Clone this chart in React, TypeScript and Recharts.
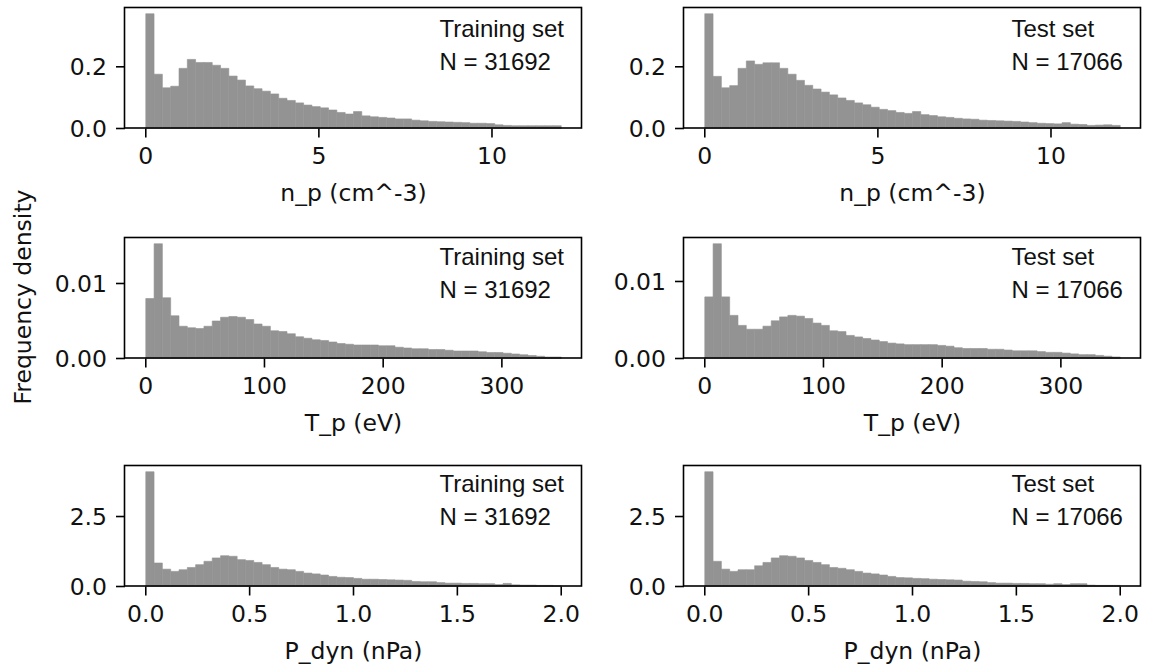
import { BarChart, Bar, XAxis, YAxis } from "recharts";

// histogram bin ranges (50 equal bins each)
const npRange = [0, 12];
const tpRange = [0, 350];
const pdynRange = [0, 2];

// frequency density per bin
const npTrain = [
  0.372, 0.176, 0.132, 0.137, 0.195, 0.224, 0.214, 0.214, 0.205, 0.195,
  0.170, 0.157, 0.138, 0.129, 0.121, 0.112, 0.098, 0.091, 0.083, 0.076,
  0.071, 0.067, 0.060, 0.052, 0.047, 0.055, 0.041, 0.038, 0.036, 0.034,
  0.031, 0.031, 0.027, 0.025, 0.023, 0.022, 0.021, 0.020, 0.019, 0.017,
  0.017, 0.016, 0.012, 0.010, 0.009, 0.009, 0.009, 0.009, 0.009, 0.009,
];
const npTest = [
  0.372, 0.169, 0.132, 0.139, 0.195, 0.219, 0.208, 0.213, 0.213, 0.195,
  0.176, 0.156, 0.140, 0.128, 0.118, 0.109, 0.099, 0.091, 0.083, 0.077,
  0.069, 0.062, 0.058, 0.052, 0.049, 0.055, 0.045, 0.042, 0.038, 0.036,
  0.033, 0.031, 0.030, 0.027, 0.026, 0.025, 0.024, 0.023, 0.021, 0.019,
  0.017, 0.016, 0.015, 0.019, 0.014, 0.013, 0.010, 0.011, 0.012, 0.010,
];
const tpTrain = [
  0.0080, 0.0153, 0.0081, 0.0057, 0.0043, 0.0041, 0.0040, 0.0043, 0.0050, 0.0055,
  0.0056, 0.0055, 0.0052, 0.0046, 0.0043, 0.0037, 0.0036, 0.0033, 0.0029, 0.0027,
  0.0025, 0.0024, 0.0022, 0.0020, 0.0019, 0.0018, 0.0018, 0.0018, 0.0017, 0.0017,
  0.0015, 0.0014, 0.0013, 0.0013, 0.0012, 0.0012, 0.0011, 0.0010, 0.0010, 0.0010,
  0.0009, 0.0008, 0.0008, 0.0007, 0.0006, 0.0005, 0.0004, 0.0003, 0.0002, 0.0002,
];
const tpTest = [
  0.0080, 0.0149, 0.0080, 0.0056, 0.0043, 0.0038, 0.0038, 0.0042, 0.0049, 0.0054,
  0.0056, 0.0055, 0.0052, 0.0046, 0.0043, 0.0036, 0.0035, 0.0030, 0.0028, 0.0026,
  0.0024, 0.0022, 0.0020, 0.0019, 0.0018, 0.0018, 0.0018, 0.0018, 0.0017, 0.0016,
  0.0014, 0.0013, 0.0013, 0.0013, 0.0012, 0.0012, 0.0011, 0.0010, 0.0010, 0.0010,
  0.0009, 0.0008, 0.0008, 0.0007, 0.0006, 0.0005, 0.0005, 0.0004, 0.0003, 0.0002,
];
const pdynTrain = [
  4.10, 0.84, 0.62, 0.54, 0.60, 0.68, 0.78, 0.90, 1.02, 1.10,
  1.08, 0.96, 0.93, 0.86, 0.78, 0.68, 0.62, 0.60, 0.54, 0.48,
  0.45, 0.41, 0.36, 0.33, 0.32, 0.29, 0.26, 0.26, 0.25, 0.24,
  0.23, 0.22, 0.18, 0.17, 0.17, 0.14, 0.12, 0.12, 0.11, 0.11,
  0.10, 0.10, 0.07, 0.11, 0.06, 0.05, 0.05, 0.04, 0.04, 0.03,
];
const pdynTest = [
  4.10, 0.90, 0.62, 0.54, 0.60, 0.60, 0.74, 0.86, 1.02, 1.10,
  1.08, 1.02, 0.93, 0.86, 0.78, 0.68, 0.65, 0.60, 0.54, 0.48,
  0.45, 0.41, 0.36, 0.32, 0.31, 0.29, 0.28, 0.26, 0.25, 0.24,
  0.23, 0.19, 0.18, 0.17, 0.14, 0.12, 0.12, 0.11, 0.11, 0.10,
  0.10, 0.08, 0.10, 0.07, 0.10, 0.10, 0.05, 0.04, 0.04, 0.04,
];

const npXTicks = [0, 5, 10];
const tpXTicks = [0, 100, 200, 300];
const pdynXTicks = [0, 0.5, 1, 1.5, 2];
const npYTicks = [0, 0.2];
const tpYTicks = [0, 0.01];
const pdynYTicks = [0, 2.5];

const trainLabel = ["Training set", "N = 31692"];
const testLabel = ["Test set", "N = 17066"];

const PLOT_W = 457;
const PLOT_H = 120.5;
const ML = 120;
const MT = 10;
const MR = 10;
const MB = 85;
const COL_X = [124.5, 683.5];
const ROW_Y = [7.5, 237.5, 465.5];
const TEXT_X = [439.5, 1011.5];
const TEXT_Y = [36.5, 264.5, 491.5];
const BAR = "#939393";
const INK = "#111";
const TICK_FONT = { fill: INK, fontSize: 23.5, fontFamily: "DejaVu Sans" };

type PanelProps = {
  left: number;
  top: number;
  values: number[];
  range: number[];
  xTicks: number[];
  xFmt: (v: number) => string;
  yTicks: number[];
  yFmt: (v: number) => string;
  xLabel: string;
};

function Panel({ left, top, values, range, xTicks, xFmt, yTicks, yFmt, xLabel }: PanelProps) {
  const [lo, hi] = range;
  const step = (hi - lo) / values.length;
  const data = values.map((v, i) => ({ x: lo + step * (i + 0.5), density: v }));
  const pad = (hi - lo) * 0.05;
  const yMax = Math.max(...values) * 1.05;
  // a hair under the bin width, otherwise recharts shrinks bars to 90%
  const barSize = PLOT_W / (values.length * 1.1) - 0.02;

  return (
    <div style={{ position: "absolute", left: left - ML, top: top - MT }}>
      <BarChart
        width={ML + PLOT_W + MR}
        height={MT + PLOT_H + MB}
        data={data}
        margin={{ top: MT, right: MR, bottom: 0, left: 0 }}
        barCategoryGap={0}
        barGap={0}
      >
        <XAxis
          dataKey="x"
          type="number"
          domain={[lo - pad, hi + pad]}
          ticks={xTicks}
          interval={0}
          tickFormatter={xFmt}
          height={MB}
          axisLine={false}
          tickSize={9}
          tickMargin={10}
          tickLine={{ stroke: "#000", strokeWidth: 1.6 }}
          tick={TICK_FONT}
          label={{ value: xLabel, position: "insideBottom", offset: 13, ...TICK_FONT }}
        />
        <YAxis
          type="number"
          domain={[0, yMax]}
          ticks={yTicks}
          interval={0}
          tickFormatter={yFmt}
          width={ML}
          axisLine={false}
          tickSize={9}
          tickMargin={9}
          tickLine={{ stroke: "#000", strokeWidth: 1.6 }}
          tick={TICK_FONT}
        />
        <Bar
          dataKey="density"
          fill={BAR}
          stroke={BAR}
          strokeWidth={0.6}
          barSize={barSize}
          isAnimationActive={false}
        />
      </BarChart>
    </div>
  );
}

const rows = [
  { train: npTrain, test: npTest, range: npRange, xTicks: npXTicks, xFmt: (v: number) => String(v), yTicks: npYTicks, yFmt: (v: number) => v.toFixed(1), xLabel: "n_p (cm^-3)" },
  { train: tpTrain, test: tpTest, range: tpRange, xTicks: tpXTicks, xFmt: (v: number) => String(v), yTicks: tpYTicks, yFmt: (v: number) => v.toFixed(2), xLabel: "T_p (eV)" },
  { train: pdynTrain, test: pdynTest, range: pdynRange, xTicks: pdynXTicks, xFmt: (v: number) => v.toFixed(1), yTicks: pdynYTicks, yFmt: (v: number) => v.toFixed(1), xLabel: "P_dyn (nPa)" },
];

export default function App() {
  return (
    <div style={{ position: "absolute", left: 0, top: 0, width: 1151, height: 669, background: "#fff", overflow: "hidden" }}>
      {rows.map((r, ri) =>
        [r.train, r.test].map((vals, ci) => (
          <Panel
            key={`${ri}-${ci}`}
            left={COL_X[ci]}
            top={ROW_Y[ri]}
            values={vals}
            range={r.range}
            xTicks={r.xTicks}
            xFmt={r.xFmt}
            yTicks={r.yTicks}
            yFmt={r.yFmt}
            xLabel={r.xLabel}
          />
        ))
      )}
      <svg width={1151} height={669} style={{ position: "absolute", left: 0, top: 0, pointerEvents: "none" }}>
        {ROW_Y.map((y, ri) =>
          COL_X.map((x, ci) => (
            <g key={`${ri}-${ci}`}>
              <rect x={x} y={y} width={PLOT_W} height={PLOT_H} fill="none" stroke="#000" strokeWidth={1.6} />
              {(ci === 0 ? trainLabel : testLabel).map((line, li) => (
                <text
                  key={li}
                  x={TEXT_X[ci]}
                  y={TEXT_Y[ri] + li * 33}
                  fill={INK}
                  fontSize={24}
                  fontFamily="Liberation Sans, Arial, sans-serif"
                >
                  {line}
                </text>
              ))}
            </g>
          ))
        )}
        <text
          x={31}
          y={297}
          transform="rotate(-90, 31, 297)"
          textAnchor="middle"
          fill={INK}
          fontSize={23.5}
          fontFamily="DejaVu Sans"
        >
          Frequency density
        </text>
      </svg>
    </div>
  );
}
